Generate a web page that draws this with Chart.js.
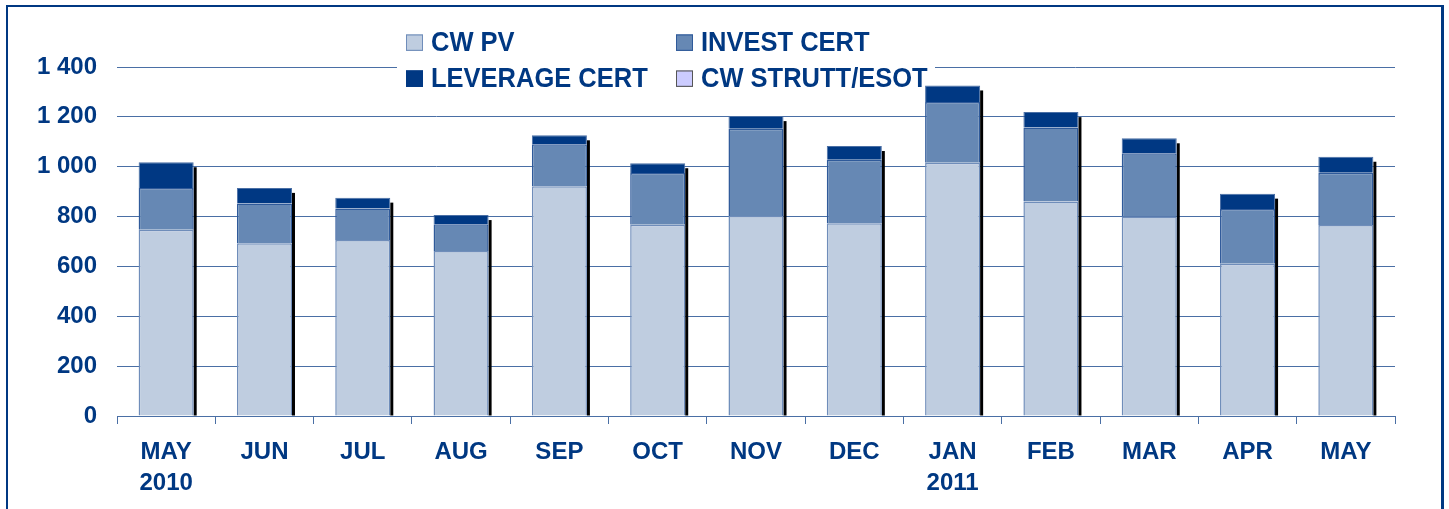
<!DOCTYPE html>
<html>
<head>
<meta charset="utf-8">
<script src="https://cdn.jsdelivr.net/npm/chart.js@4.4.1/dist/chart.umd.min.js"></script>
<style>
  html, body { margin: 0; padding: 0; background: #fff; overflow: hidden; }
  #wrap { position: relative; width: 1449px; height: 509px; }
  #frame { position: absolute; left: 6px; top: 5px; width: 1433px; height: 520px;
           border-left: 2px solid #003882; border-top: 2px solid #003882; border-right: 3px solid #003882; }
  #legend { position: absolute; left: 397px; top: 23px; width: 529px; padding-left: 9px;
            display: grid; grid-template-columns: 270px auto;
            font: bold 25.5px 'Liberation Sans', Arial, sans-serif;
            color: #003882; line-height: 36px; white-space: nowrap; z-index: 2; }
  #legend div { transform: scaleY(1.1); transform-origin: 0 50%; }
  #legend span.box { display: inline-block; width: 15px; height: 13px; border: 1px solid;
                     margin-right: 8px; vertical-align: 0px; }
  #chart_wrap { position: absolute; left: 0; top: 0; width: 1449px; height: 509px; }
</style>
</head>
<body>
<div id="wrap">
  <div id="frame"></div>
  <div id="chart_wrap"><canvas id="chart_monthlyTurnover"></canvas></div>
  <div id="legend"></div>
</div>
<script>
// values (stack segments)
var months = [['MAY', '2010'], 'JUN', 'JUL', 'AUG', 'SEP', 'OCT', 'NOV', 'DEC', ['JAN', '2011'], 'FEB', 'MAR', 'APR', 'MAY'];
var cwPv = [747, 693, 706, 662, 922, 767, 802, 773, 1016, 860, 800, 611, 766];
var investCert = [168, 159, 126, 107, 168, 208, 350, 255, 244, 297, 254, 219, 210];
var leverageCert = [103, 63, 44, 37, 36, 39, 51, 55, 66, 62, 60, 62, 64];
var cwStrutt = [0, 0, 0, 0, 0, 0, 0, 0, 0, 0, 0, 0, 0];
var yTicks = [0, 200, 400, 600, 800, 1000, 1200, 1400];

var navy = '#003882';
var fontFamily = "'Liberation Sans', Arial, sans-serif";

var series = [
    { label: 'CW PV', data: cwPv, fill: '#BFCDE0', border: '#6F8DBA', bw: 1.5 },
    { label: 'INVEST CERT', data: investCert, fill: '#6688B4', border: '#2F5A9A', bw: 1.5 },
    { label: 'LEVERAGE CERT', data: leverageCert, fill: '#003883', border: '#4A6FA5', bw: 1 },
    { label: 'CW STRUTT/ESOT', data: cwStrutt, fill: '#CCCCFF', border: '#555555', bw: 0 }
];

// legend in 2 columns, order as in the reference
var legendEl = document.getElementById('legend');
series.forEach(function (s, i) {
    var item = document.createElement('div');
    item.innerHTML = '<span class="box" style="background:' + s.fill + ';border-color:' +
        (i === 2 ? s.fill : s.border) + '"></span>' + s.label;
    legendEl.appendChild(item);
});

function spaced(v) {
    return String(v).replace(/\B(?=(\d{3})+(?!\d))/g, ' ');
}

var shadowPlugin = {
    id: 'barShadow',
    beforeDatasetsDraw: function (chart) {
        var ctx = chart.ctx;
        var cr = chart.canvas.getBoundingClientRect();
        var lr = legendEl.getBoundingClientRect();
        ctx.save();
        // blank the grid behind the legend
        ctx.fillStyle = '#fff';
        ctx.fillRect(lr.left - cr.left, lr.top - cr.top, lr.width, lr.height);
        // drop shadow on the right of every stack
        ctx.fillStyle = '#000';
        for (var i = 0; i < chart.data.labels.length; i++) {
            var top = null, base = null, last = null;
            chart.data.datasets.forEach(function (ds, d) {
                if (!ds.data[i]) return;
                var p = chart.getDatasetMeta(d).data[i].getProps(['x', 'y', 'base', 'width'], true);
                if (top === null || p.y < top) top = p.y;
                if (base === null || p.base > base) base = p.base;
                last = p;
            });
            if (last) ctx.fillRect(last.x + last.width / 2, top + 5, 3, base - top - 5);
        }
        ctx.restore();
    }
};

var chart_monthlyTurnover = new Chart(document.getElementById('chart_monthlyTurnover'), {
    type: 'bar',
    data: {
        labels: months,
        datasets: series.map(function (s) {
            return {
                label: s.label,
                data: s.data,
                backgroundColor: s.fill,
                borderColor: s.border,
                borderWidth: s.bw,
                barPercentage: 0.56,
                categoryPercentage: 1
            };
        })
    },
    options: {
        animation: false,
        responsive: true,
        maintainAspectRatio: false,
        layout: {
            padding: { left: 0, right: 54, top: 67, bottom: 0 }
        },
        plugins: {
            legend: { display: false },
            tooltip: { enabled: false }
        },
        scales: {
            x: {
                stacked: true,
                grid: {
                    display: true,
                    offset: true,
                    drawOnChartArea: false,
                    drawTicks: true,
                    tickLength: 8,
                    color: '#4A6FA5',
                    lineWidth: 1
                },
                border: { display: true, color: '#4A6FA5', width: 1 },
                ticks: {
                    color: navy,
                    padding: 13,
                    maxRotation: 0,
                    autoSkip: false,
                    font: { family: fontFamily, size: 24, weight: 'bold', lineHeight: 1.3 }
                },
                afterFit: function (scale) { scale.height = 93; }
            },
            y: {
                stacked: true,
                min: 0,
                max: 1400,
                afterBuildTicks: function (scale) {
                    scale.ticks = yTicks.map(function (v) { return { value: v }; });
                },
                grid: {
                    color: '#4A6FA5',
                    lineWidth: 1,
                    drawTicks: false
                },
                border: { display: false },
                ticks: {
                    color: navy,
                    padding: 20,
                    font: { family: fontFamily, size: 24, weight: 'bold' },
                    callback: function (v) { return spaced(v); }
                },
                afterFit: function (scale) { scale.width = 117; }
            }
        }
    },
    plugins: [shadowPlugin]
});
</script>
</body>
</html>
